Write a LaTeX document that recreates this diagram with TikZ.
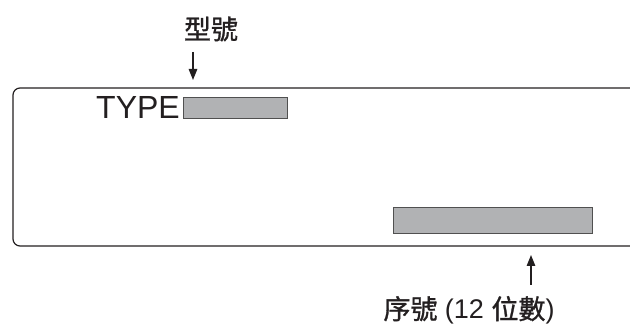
\documentclass[tikz,border=0pt]{standalone}
\usepackage{fontspec}
\setmainfont{Liberation Sans}
\newfontfamily\cjk[FakeBold=1.2]{Noto Sans CJK TC}
\usetikzlibrary{arrows.meta}
\definecolor{barfill}{HTML}{B1B2B4}
\definecolor{barline}{HTML}{505050}
\definecolor{ink}{HTML}{231F20}
\begin{document}
\begin{tikzpicture}[x=1pt,y=1pt,
  bar/.style={draw=barline,fill=barfill,line width=1.1pt},
  pointer/.style={draw=ink,line width=1.4pt,-{Triangle[length=11pt,width=8.5pt]}},
  cjklabel/.style={font=\fontsize{27}{27}\selectfont,text=ink,inner sep=0pt}]
\useasboundingbox (0,0) rectangle (630,327);
% frame open on the right
\draw[ink,line width=1.2pt] (630,239) -- (20,239) arc[start angle=90,end angle=180,radius=7] -- (13,88) arc[start angle=180,end angle=270,radius=7] -- (630,81);
% TYPE label and bar
\node[anchor=base west,inner sep=0pt,text=ink,font=\fontsize{32}{32}\selectfont] (type) at (96,208) {TYPE};
\node[bar,anchor=south west,minimum width=104pt,minimum height=21pt,inner sep=0pt] (typebar) at (183,208) {};
% serial bar
\node[bar,anchor=south west,minimum width=199pt,minimum height=26pt,inner sep=0pt] (serialbar) at (393,93) {};
% labels
\node[cjklabel] (lab1) at (211,298) {\cjk 型號};
\node[cjklabel,anchor=base] (lab2) at (469,8) {{\cjk 序號} (12 {\cjk 位數})};
% arrows
\coordinate (a1s) at (193,275);
\coordinate (a1e) at (193,247);
\coordinate (a2s) at (531,42);
\coordinate (a2e) at (531,72);
\draw[pointer] (a1s) -- (a1e);
\draw[pointer] (a2s) -- (a2e);
\end{tikzpicture}
\end{document}
